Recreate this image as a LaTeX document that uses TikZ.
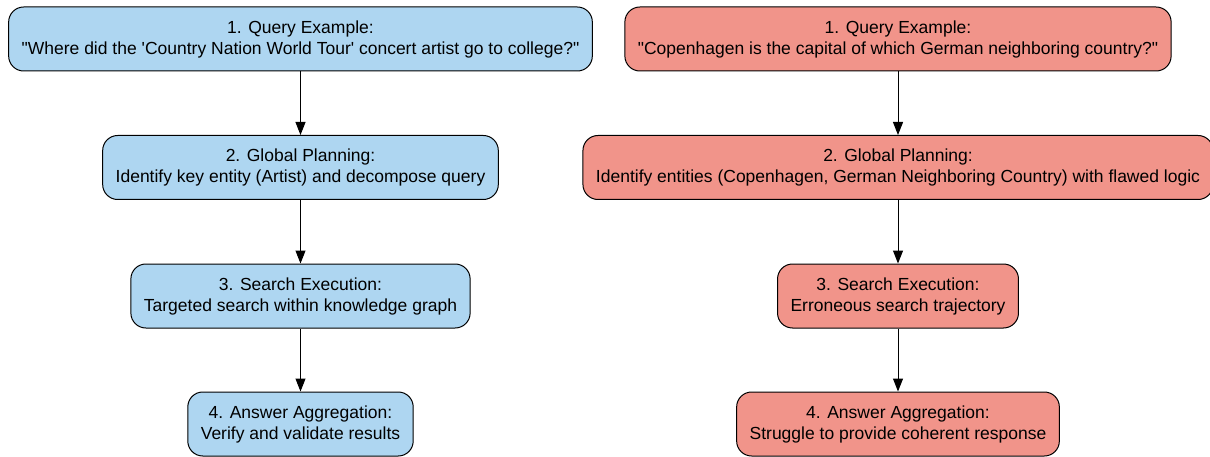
\documentclass[tikz,border=0pt]{standalone}
\usepackage{fontspec}
\setmainfont{Liberation Sans}
\usetikzlibrary{arrows.meta}
\tikzset{>={Triangle[length=13pt,width=10pt]}}
\definecolor{goodblue}{HTML}{AED6F1}
\definecolor{badred}{HTML}{F1948A}
\tikzstyle{stepbox}=[draw=black,line width=1pt,rounded corners=15pt,align=center,
  inner xsep=13pt,minimum height=64pt,font=\fontsize{17.5}{21}\selectfont]
\tikzstyle{goodbox}=[stepbox,fill=goodblue]
\tikzstyle{badbox}=[stepbox,fill=badred]
\tikzstyle{flow}=[->,line width=1pt]

\begin{document}
\begin{tikzpicture}[x=1pt,y=1pt]
  \useasboundingbox (0,0) rectangle (1210,-457);
  % left column: successful case
  \node[goodbox] (gquery) at (300.5,-39) {1. Query Example:\\\textquotedbl Where did the \textquotesingle Country Nation World Tour\textquotesingle{} concert artist go to college?\textquotedbl};
  \node[goodbox] (gplan) at (300.5,-167.5) {2. Global Planning:\\Identify key entity (Artist) and decompose query};
  \node[goodbox] (gsearch) at (300.5,-296) {3. Search Execution:\\Targeted search within knowledge graph};
  \node[goodbox] (ganswer) at (300.5,-424) {4. Answer Aggregation:\\Verify and validate results};
  % right column: failed case
  \node[badbox] (bquery) at (898,-39) {1. Query Example:\\\textquotedbl Copenhagen is the capital of which German neighboring country?\textquotedbl};
  \node[badbox] (bplan) at (898,-167.5) {2. Global Planning:\\Identify entities (Copenhagen, German Neighboring Country) with flawed logic};
  \node[badbox] (bsearch) at (898,-296) {3. Search Execution:\\Erroneous search trajectory};
  \node[badbox] (banswer) at (898,-424) {4. Answer Aggregation:\\Struggle to provide coherent response};

  \draw[flow] (gquery) -- (gplan);
  \draw[flow] (gplan) -- (gsearch);
  \draw[flow] (gsearch) -- (ganswer);
  \draw[flow] (bquery) -- (bplan);
  \draw[flow] (bplan) -- (bsearch);
  \draw[flow] (bsearch) -- (banswer);
\end{tikzpicture}
\end{document}
